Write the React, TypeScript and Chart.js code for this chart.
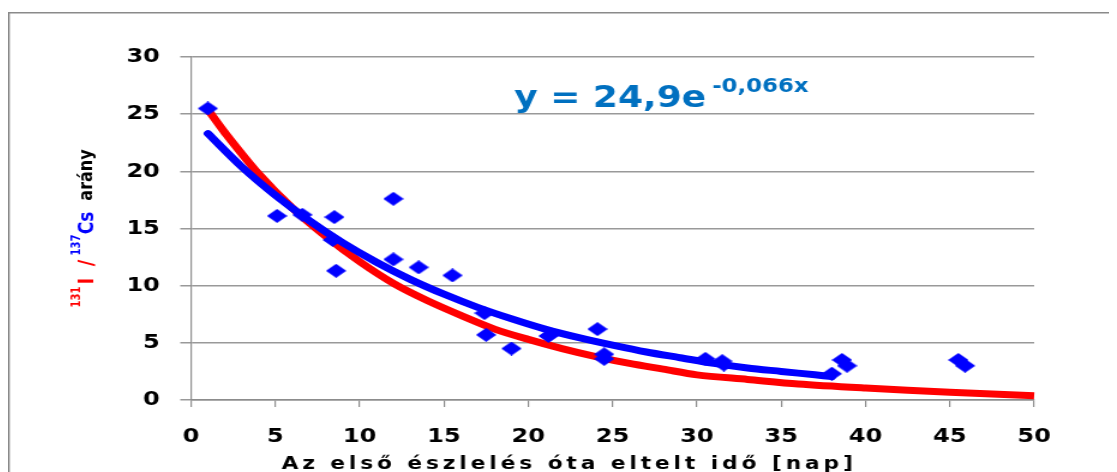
import React, { useEffect, useRef } from "react";
import { Chart, registerables } from "chart.js";

Chart.register(...registerables);

// Measured data points (days since first detection, I-131/Cs-137 ratio)
const pointX = [1.0, 5.1, 6.6, 8.5, 8.4, 8.6, 12.0, 12.0, 13.5, 15.5, 17.4, 17.5, 19.0, 21.2, 24.1, 24.5, 24.5, 30.5, 31.5, 31.6, 38.0, 38.6, 38.9, 45.5, 45.9];
const pointY = [25.5, 16.1, 16.2, 16.0, 14.0, 11.3, 17.6, 12.3, 11.6, 10.9, 7.6, 5.7, 4.5, 5.6, 6.2, 4.0, 3.6, 3.6, 3.4, 3.1, 2.3, 3.5, 3.0, 3.5, 3.0];

// Fitted trend (blue)
const fitX = [1, 3, 5, 7, 9, 11, 13, 15, 17, 19, 21, 23, 25, 27, 29, 31, 33, 35, 37, 38];
const fitY = [23.3, 20.4, 17.9, 15.7, 13.75, 12.05, 10.55, 9.25, 8.1, 7.1, 6.2, 5.45, 4.8, 4.2, 3.7, 3.2, 2.8, 2.5, 2.2, 2.05];

// Decay curve (red)
const decayX = [1, 2, 4, 6, 8, 10, 12, 14, 16, 18, 20, 22, 24, 26, 28, 30, 33, 36, 40, 45, 50, 50.6];
const decayY = [25.4, 23.4, 19.8, 16.8, 14.3, 12.1, 10.2, 8.7, 7.4, 6.2, 5.3, 4.5, 3.8, 3.2, 2.7, 2.2, 1.8, 1.4, 1.05, 0.68, 0.38, 0.36];

const xTicks = [0, 5, 10, 15, 20, 25, 30, 35, 40, 45, 50];
const yTicks = [0, 5, 10, 15, 20, 25, 30];

const equationMain = "y = 24,9e";
const equationExp = "-0,066x";
const xTitle = "Az első észlelés óta eltelt idő [nap]";

const CW = 924; // internal canvas width (stretched to 1109 CSS px)
const CH = 464;
const FONT = "'DejaVu Sans', Verdana, sans-serif";

function makeDiamond(): HTMLCanvasElement {
  const c = document.createElement("canvas");
  c.width = 17;
  c.height = 14;
  const g = c.getContext("2d")!;
  g.fillStyle = "#0000FF";
  g.beginPath();
  g.moveTo(0, 7);
  g.lineTo(8.5, 0);
  g.lineTo(17, 7);
  g.lineTo(8.5, 14);
  g.closePath();
  g.fill();
  return c;
}

const overlayPlugin = {
  id: "overlay",
  afterDraw(chart: any) {
    const ctx: CanvasRenderingContext2D = chart.ctx;
    ctx.save();
    // outer border (top and left visible)
    ctx.strokeStyle = "#8a8a8a";
    ctx.lineWidth = 1.5;
    ctx.beginPath();
    ctx.moveTo(0.7, CH + 10);
    ctx.lineTo(0.7, 4.7);
    ctx.lineTo(CW + 10, 4.7);
    ctx.stroke();

    // equation
    ctx.fillStyle = "#0070C0";
    ctx.textAlign = "left";
    ctx.textBaseline = "alphabetic";
    ctx.font = `bold 30px ${FONT}`;
    ctx.fillText(equationMain, 421.7, 99);
    ctx.font = `bold 19px ${FONT}`;
    ctx.fillText(equationExp, 586.7, 84);

    // x-axis title
    ctx.fillStyle = "#000000";
    ctx.font = `bold 18px ${FONT}`;
    (ctx as any).letterSpacing = "3.3px";
    ctx.fillText(xTitle, 228, 461);
    (ctx as any).letterSpacing = "0px";

    // y-axis title (rotated pieces)
    const toX = (px: number) => (px - 8) / 1.2;
    const toY = (py: number) => py - 8;
    const pieces = [
      { t: "131", c: "#FF0000", s: 10, y: 297, x: 80 },
      { t: "I", c: "#FF0000", s: 17, y: 281, x: 93.3 },
      { t: "/", c: "#FF0000", s: 18, y: 263, x: 93.3 },
      { t: "137", c: "#0000FF", s: 10, y: 245, x: 80 },
      { t: "Cs", c: "#0000FF", s: 17, y: 223, x: 93.3 },
      { t: "arány", c: "#000000", s: 16, y: 175, x: 92 },
    ];
    for (const p of pieces) {
      ctx.save();
      ctx.translate(toX(p.x), toY(p.y));
      ctx.rotate(-Math.PI / 2);
      ctx.font = `bold ${p.s}px ${FONT}`;
      ctx.fillStyle = p.c;
      ctx.textAlign = "center";
      ctx.textBaseline = "alphabetic";
      ctx.fillText(p.t, 0, 0);
      ctx.restore();
    }
    ctx.restore();
  },
};

export default function App() {
  const ref = useRef<HTMLCanvasElement | null>(null);

  useEffect(() => {
    if (!ref.current) return;
    const diamond = makeDiamond();
    const gridColor = "#999999";
    const tickFont = { family: FONT, size: 20, weight: "bold" as const };

    const chart = new Chart(ref.current, {
      type: "scatter",
      data: {
        datasets: [
          {
            label: "mért",
            data: pointX.map((x, i) => ({ x, y: pointY[i] })),
            pointStyle: diamond as any,
            pointRadius: 8,
            backgroundColor: "#0000FF",
            borderColor: "#0000FF",
            showLine: false,
            clip: false as any,
          },
          {
            label: "illesztés",
            data: fitX.map((x, i) => ({ x, y: fitY[i] })),
            showLine: true,
            borderColor: "#0000FF",
            borderWidth: 7,
            borderCapStyle: "round",
            borderJoinStyle: "round",
            pointRadius: 0,
            tension: 0.3,
            fill: false,
          },
          {
            label: "bomlás",
            data: decayX.map((x, i) => ({ x, y: decayY[i] })),
            showLine: true,
            borderColor: "#FF0000",
            borderWidth: 7,
            borderJoinStyle: "round",
            pointRadius: 0,
            tension: 0.3,
            fill: false,
            clip: false as any,
          },
        ],
      },
      options: {
        responsive: false,
        animation: false,
        devicePixelRatio: 1,
        layout: { padding: { left: 0, right: CW - 855, top: 49, bottom: 0 } },
        plugins: {
          legend: { display: false },
          tooltip: { enabled: false },
          title: { display: false },
        },
        scales: {
          x: {
            type: "linear",
            position: "bottom",
            min: 0,
            max: 50,
            afterBuildTicks: (s: any) => {
              s.ticks = xTicks.map((v) => ({ value: v }));
            },
            afterFit: (s: any) => {
              s.height = CH - 392;
            },
            border: { display: true, color: "#8c8c8c", width: 1.5 },
            grid: {
              drawOnChartArea: false,
              drawTicks: true,
              tickLength: 7,
              color: "#8c8c8c",
              lineWidth: 1.2,
            },
            ticks: {
              font: tickFont,
              color: "#000000",
              padding: 18,
              maxRotation: 0,
              autoSkip: false,
            },
          },
          y: {
            type: "linear",
            min: 0,
            max: 30,
            afterBuildTicks: (s: any) => {
              s.ticks = yTicks.map((v) => ({ value: v }));
            },
            afterFit: (s: any) => {
              s.width = 152.5;
            },
            border: { display: true, color: "#8c8c8c", width: 1.2 },
            grid: {
              color: gridColor,
              lineWidth: 1.5,
              tickLength: 9,
              drawTicks: true,
            },
            ticks: {
              font: tickFont,
              color: "#000000",
              padding: 17,
              autoSkip: false,
            },
          },
        },
      },
      plugins: [overlayPlugin],
    });
    return () => chart.destroy();
  }, []);

  return (
    <div style={{ width: 1109, height: CH }}>
      <canvas
        ref={ref}
        width={CW}
        height={CH}
        style={{ display: "block", width: "1109px", height: `${CH}px` }}
      />
    </div>
  );
}
